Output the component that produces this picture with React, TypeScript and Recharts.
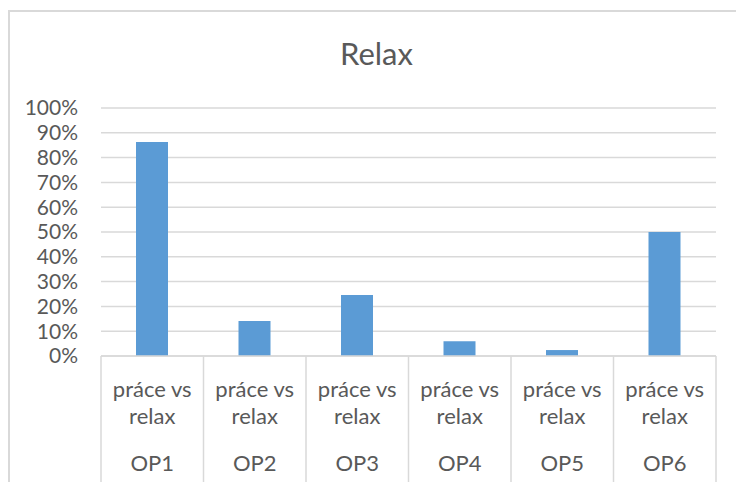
import React from "react";
import { BarChart, Bar, XAxis, YAxis, CartesianGrid } from "recharts";

const categories = ["OP1", "OP2", "OP3", "OP4", "OP5", "OP6"];
const subLabels = ["práce vs relax", "práce vs relax", "práce vs relax", "práce vs relax", "práce vs relax", "práce vs relax"];
const values = [0.863, 0.141, 0.246, 0.059, 0.024, 0.5];
const yTicks = [0, 0.1, 0.2, 0.3, 0.4, 0.5, 0.6, 0.7, 0.8, 0.9, 1];
const title = "Relax";

const data = categories.map((c, i) => ({ name: c, sub: subLabels[i], value: values[i] }));

const FONT = "Lato, 'Liberation Sans', sans-serif";
const GRAY = "#d9d9d9";
const TEXT = "#595959";

const W = 728;
const H = 474;
const M = { top: 100, right: 20, left: 0, bottom: 0 };
const X_H = 126;
const Y_W = 93;
const plotW = W - M.left - M.right - Y_W;
const band = plotW / categories.length;

function CatTick(props: any) {
  const { x, y, payload, index } = props;
  const d = data.find((r) => r.name === payload.value);
  const sub = d ? d.sub : "";
  const words = sub.split(" ");
  const line1 = words.slice(0, 2).join(" ");
  const line2 = words.slice(2).join(" ");
  const last = index === categories.length - 1;
  return (
    <g>
      <line x1={x - band / 2} x2={x - band / 2} y1={y} y2={y + 140} stroke={GRAY} strokeWidth={1.5} />
      {last && <line x1={x + band / 2} x2={x + band / 2} y1={y} y2={y + 140} stroke={GRAY} strokeWidth={1.5} />}
      <text x={x} y={y + 41} textAnchor="middle" fill={TEXT} fontSize={22} fontFamily={FONT}>{line1}</text>
      <text x={x} y={y + 68} textAnchor="middle" fill={TEXT} fontSize={22} fontFamily={FONT}>{line2}</text>
      <text x={x} y={y + 115} textAnchor="middle" fill={TEXT} fontSize={22} fontFamily={FONT}>{payload.value}</text>
    </g>
  );
}

export default function App() {
  return (
    <div style={{ position: "fixed", left: 0, top: 0, width: 736, height: 482, overflow: "hidden", background: "#fff" }}>
      <div style={{ position: "absolute", left: 8, top: 8, width: W, height: H }}>
        <div style={{ position: "absolute", left: 0, top: 2, width: W, height: 1.5, background: GRAY }} />
        <div style={{ position: "absolute", left: 0, top: 2, width: 1.5, height: H, background: GRAY }} />
        <svg style={{ position: "absolute", left: 0, top: 0 }} width={W} height={80}>
          <text x={368.5} y={57} textAnchor="middle" fill={TEXT} fontSize={31} fontFamily={FONT}>{title}</text>
        </svg>
        <div style={{ position: "absolute", left: 0, top: 0 }}>
          <BarChart width={W} height={H} data={data} margin={M}>
            <CartesianGrid vertical={false} stroke={GRAY} strokeWidth={1.5} />
            <XAxis
              dataKey="name"
              axisLine={{ stroke: GRAY, strokeWidth: 1.5 }}
              tickLine={false}
              tickSize={0}
              tickMargin={0}
              interval={0}
              tick={<CatTick />}
              height={X_H}
            />
            <YAxis
              width={Y_W}
              domain={[0, 1]}
              ticks={yTicks}
              interval={0}
              axisLine={false}
              tickLine={false}
              tickSize={0}
              tickMargin={23}
              tickFormatter={(v: number) => `${Math.round(v * 100)}%`}
              tick={{ fill: TEXT, fontSize: 21, fontFamily: FONT }}
            />
            <Bar dataKey="value" fill="#5b9bd5" barSize={32} isAnimationActive={false} />
          </BarChart>
        </div>
      </div>
    </div>
  );
}
